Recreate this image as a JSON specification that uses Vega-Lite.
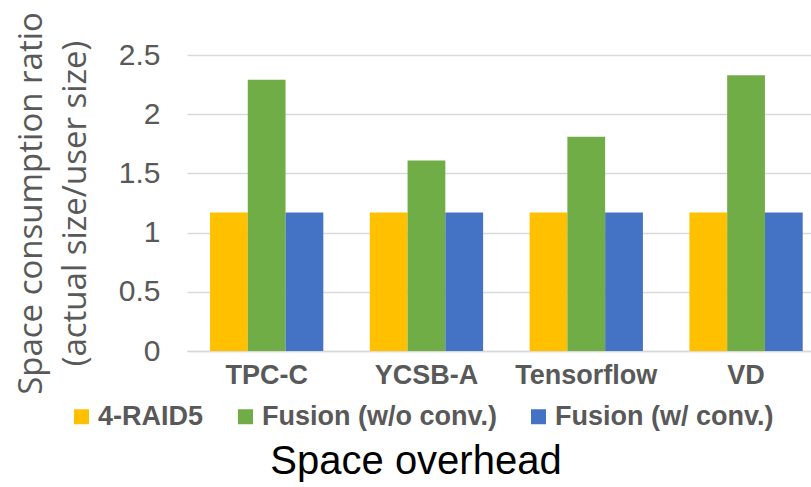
{
  "$schema": "https://vega.github.io/schema/vega-lite/v6.json",
  "autosize": "none",
  "width": 624,
  "height": 296,
  "padding": {"left": 187, "top": 55, "right": 0, "bottom": 136},
  "background": "white",
  "title": {
    "text": "Space overhead",
    "orient": "bottom",
    "anchor": "middle",
    "font": "Liberation Sans",
    "fontSize": 40,
    "fontWeight": "normal",
    "color": "#000000",
    "dx": -83,
    "offset": 12
  },
  "data": {
    "values": [
      {"workload": "TPC-C", "config": "4-RAID5", "ratio": 1.17},
      {"workload": "TPC-C", "config": "Fusion (w/o conv.)", "ratio": 2.29},
      {"workload": "TPC-C", "config": "Fusion (w/ conv.)", "ratio": 1.17},
      {"workload": "YCSB-A", "config": "4-RAID5", "ratio": 1.17},
      {"workload": "YCSB-A", "config": "Fusion (w/o conv.)", "ratio": 1.61},
      {"workload": "YCSB-A", "config": "Fusion (w/ conv.)", "ratio": 1.17},
      {"workload": "Tensorflow", "config": "4-RAID5", "ratio": 1.17},
      {"workload": "Tensorflow", "config": "Fusion (w/o conv.)", "ratio": 1.81},
      {"workload": "Tensorflow", "config": "Fusion (w/ conv.)", "ratio": 1.17},
      {"workload": "VD", "config": "4-RAID5", "ratio": 1.17},
      {"workload": "VD", "config": "Fusion (w/o conv.)", "ratio": 2.33},
      {"workload": "VD", "config": "Fusion (w/ conv.)", "ratio": 1.17}
    ]
  },
  "mark": {"type": "bar"},
  "encoding": {
    "x": {
      "field": "workload",
      "type": "nominal",
      "sort": ["TPC-C", "YCSB-A", "Tensorflow", "VD"],
      "scale": {"paddingInner": 0.291, "paddingOuter": 0.098, "align": 0.735},
      "axis": {
        "title": null,
        "labelAngle": 0,
        "labelFont": "Liberation Sans",
        "labelFontSize": 27,
        "labelFontWeight": "bold",
        "labelColor": "#595959",
        "labelPadding": 11,
        "ticks": false,
        "domainColor": "#D9D9D9",
        "domainWidth": 1.5
      }
    },
    "xOffset": {
      "field": "config",
      "type": "nominal",
      "sort": ["4-RAID5", "Fusion (w/o conv.)", "Fusion (w/ conv.)"],
      "scale": {"paddingInner": 0, "paddingOuter": 0}
    },
    "y": {
      "field": "ratio",
      "type": "quantitative",
      "scale": {"domain": [0, 2.5]},
      "axis": {
        "values": [0, 0.5, 1, 1.5, 2, 2.5],
        "format": "~g",
        "title": ["Space consumption ratio", "(actual size/user size)"],
        "titleFont": "Open Sans",
        "titleFontSize": 33,
        "titleFontWeight": "normal",
        "titleColor": "#595959",
        "titleLineHeight": 44,
        "titlePadding": 26,
        "labelFont": "Liberation Sans",
        "labelFontSize": 30,
        "labelColor": "#595959",
        "labelPadding": 27,
        "ticks": false,
        "domain": false,
        "gridColor": "#D9D9D9",
        "gridWidth": 1.5
      }
    },
    "color": {
      "field": "config",
      "type": "nominal",
      "sort": ["4-RAID5", "Fusion (w/o conv.)", "Fusion (w/ conv.)"],
      "scale": {
        "domain": ["4-RAID5", "Fusion (w/o conv.)", "Fusion (w/ conv.)"],
        "range": ["#FFC000", "#70AD47", "#4472C4"]
      },
      "legend": {
        "title": null,
        "orient": "none",
        "legendX": -119,
        "legendY": 348,
        "direction": "horizontal",
        "symbolType": "square",
        "symbolSize": 225,
        "symbolStrokeWidth": 0,
        "labelFont": "Liberation Sans",
        "labelFontSize": 27,
        "labelFontWeight": "bold",
        "labelColor": "#595959",
        "labelOffset": 3,
        "columnPadding": 28,
        "padding": 0,
        "labelLimit": 400
      }
    }
  },
  "config": {"view": {"stroke": null}}
}
